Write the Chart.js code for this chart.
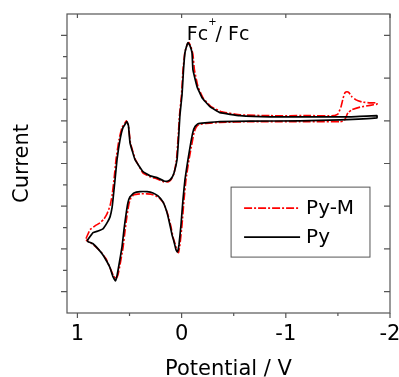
<!DOCTYPE html>
<html>
<head>
<meta charset="utf-8">
<script src="https://cdn.jsdelivr.net/npm/chart.js@4.4.1/dist/chart.umd.min.js"></script>
<style>
  html, body { margin: 0; padding: 0; background: #fff; }
</style>
</head>
<body>
<canvas id="cv" width="399" height="377"></canvas>
<script>
// Cyclic voltammograms (potential in V, current in arbitrary units).
// Each loop starts at the left vertex, goes out to -1.9 V and comes back.
const pyPotential = [
  0.908, 0.850, 0.802, 0.755, 0.716, 0.687, 0.668, 0.659, 0.639, 0.620,
  0.591, 0.563, 0.524, 0.510, 0.495, 0.447, 0.371, 0.303, 0.236, 0.169,
  0.131, 0.102, 0.073, 0.044, 0.030, 0.016, -0.004, -0.018, -0.032, -0.052,
  -0.061, -0.080, -0.100, -0.109, -0.148, -0.196, -0.272, -0.368, -0.560, -0.848,
  -1.232, -1.616, -1.875,
  -1.875, -1.520, -1.136, -0.656, -0.368, -0.224, -0.157, -0.128, -0.109, -0.090,
  -0.061, -0.032, -0.013, 0.006, 0.025, 0.040, 0.054, 0.073, 0.092, 0.112,
  0.140, 0.179, 0.227, 0.275, 0.332, 0.399, 0.457, 0.495, 0.515, 0.534,
  0.553, 0.572, 0.601, 0.620, 0.635, 0.659, 0.687, 0.716, 0.755, 0.802,
  0.850, 0.898, 0.908
];
const pyCurrent = [
  -2.81, -2.62, -2.58, -2.53, -2.39, -2.25, -2.04, -1.85, -1.38, -0.91,
  -0.44, -0.16, -0.02, -0.12, -0.52, -0.91, -1.19, -1.29, -1.33, -1.41,
  -1.41, -1.36, -1.22, -0.91, -0.44, 0.14, 0.61, 1.19, 1.59, 1.78,
  1.83, 1.76, 1.59, 1.19, 0.80, 0.54, 0.33, 0.19, 0.12, 0.09,
  0.09, 0.09, 0.12,
  0.07, 0.02, 0.00, -0.01, -0.02, -0.05, -0.07, -0.14, -0.26, -0.49,
  -0.91, -1.38, -1.85, -2.44, -2.90, -3.07, -3.02, -2.83, -2.67, -2.44,
  -2.15, -1.90, -1.76, -1.69, -1.66, -1.66, -1.69, -1.78, -1.92, -2.20,
  -2.55, -2.95, -3.37, -3.63, -3.75, -3.65, -3.44, -3.30, -3.14, -3.00,
  -2.88, -2.83, -2.81
];

const pymPotential = [
  0.918, 0.879, 0.831, 0.783, 0.745, 0.716, 0.687, 0.668, 0.649, 0.630,
  0.601, 0.572, 0.529, 0.510, 0.491, 0.443, 0.371, 0.303, 0.236, 0.169,
  0.131, 0.102, 0.073, 0.049, 0.035, 0.020, 0.001, -0.013, -0.032, -0.056,
  -0.071, -0.090, -0.109, -0.123, -0.157, -0.205, -0.282, -0.388, -0.560, -0.848,
  -1.232, -1.462, -1.501, -1.530, -1.549, -1.568, -1.587, -1.606, -1.635, -1.674,
  -1.731, -1.808, -1.875,
  -1.875, -1.808, -1.712, -1.635, -1.597, -1.578, -1.559, -1.520, -1.136, -0.656,
  -0.368, -0.224, -0.166, -0.138, -0.119, -0.100, -0.071, -0.042, -0.023, -0.004,
  0.016, 0.030, 0.044, 0.063, 0.083, 0.102, 0.131, 0.169, 0.217, 0.275,
  0.332, 0.399, 0.457, 0.486, 0.505, 0.524, 0.543, 0.562, 0.591, 0.611,
  0.630, 0.654, 0.687, 0.726, 0.774, 0.822, 0.870, 0.918
];
const pymCurrent = [
  -2.76, -2.55, -2.46, -2.39, -2.30, -2.18, -1.99, -1.76, -1.38, -0.91,
  -0.44, -0.16, 0.00, -0.12, -0.52, -0.91, -1.22, -1.31, -1.36, -1.43,
  -1.43, -1.38, -1.24, -0.91, -0.44, 0.14, 0.61, 1.19, 1.62, 1.80,
  1.83, 1.73, 1.55, 1.19, 0.80, 0.54, 0.33, 0.21, 0.14, 0.12,
  0.12, 0.12, 0.16, 0.33, 0.52, 0.66, 0.68, 0.66, 0.56, 0.49,
  0.44, 0.42, 0.42,
  0.39, 0.36, 0.32, 0.26, 0.19, 0.09, 0.00, -0.02, -0.02, -0.02,
  -0.04, -0.06, -0.09, -0.16, -0.28, -0.52, -0.91, -1.38, -1.85, -2.44,
  -2.90, -3.09, -3.04, -2.88, -2.72, -2.48, -2.20, -1.94, -1.80, -1.73,
  -1.71, -1.71, -1.73, -1.80, -1.94, -2.22, -2.58, -2.97, -3.37, -3.61,
  -3.70, -3.63, -3.44, -3.23, -3.07, -2.95, -2.86, -2.79
];

const xTicks      = [1, 0, -1, -2];
const xMinorTicks = [0.5, -0.5, -1.5];
const yTicks      = [-4, -3, -2, -1, 0, 1, 2];
const yMinorTicks = [-3.5, -2.5, -1.5, -0.5, 0.5, 1.5];

const FONT = "'DejaVu Sans', sans-serif";
const AXIS_COLOR = '#555';

function toPoints(xs, ys) {
  return xs.map((v, i) => ({ x: v, y: ys[i] }));
}

// Box, ticks on the four sides (short minor ones on the left/bottom)
const frameTicks = {
  id: 'frameTicks',
  afterDraw(chart) {
    const { ctx, chartArea: a, scales: { x, y } } = chart;
    ctx.save();
    ctx.strokeStyle = AXIS_COLOR;
    ctx.lineWidth = 1.2;
    ctx.strokeRect(a.left, a.top, a.right - a.left, a.bottom - a.top);
    ctx.beginPath();
    yTicks.forEach(v => {
      const p = y.getPixelForValue(v);
      ctx.moveTo(a.left - 6, p); ctx.lineTo(a.left, p);
      ctx.moveTo(a.right - 6, p); ctx.lineTo(a.right, p);
    });
    yMinorTicks.forEach(v => {
      const p = y.getPixelForValue(v);
      ctx.moveTo(a.left - 4, p); ctx.lineTo(a.left, p);
    });
    xTicks.forEach(v => {
      const p = x.getPixelForValue(v);
      ctx.moveTo(p, a.bottom); ctx.lineTo(p, a.bottom + 5);
      ctx.moveTo(p, a.top); ctx.lineTo(p, a.top + 4);
    });
    xMinorTicks.forEach(v => {
      const p = x.getPixelForValue(v);
      ctx.moveTo(p, a.bottom); ctx.lineTo(p, a.bottom + 3);
    });
    ctx.stroke();
    ctx.restore();
  }
};

// Framed legend inside the plot, lower right
const boxLegend = {
  id: 'boxLegend',
  afterDraw(chart) {
    const { ctx, chartArea: a } = chart;
    const w = a.right - a.left, h = a.bottom - a.top;
    const bx = a.left + 0.508 * w, by = a.top + 0.579 * h;
    const bw = 0.430 * w, bh = 0.234 * h;
    ctx.save();
    ctx.fillStyle = '#fff';
    ctx.fillRect(bx, by, bw, bh);
    ctx.strokeStyle = AXIS_COLOR;
    ctx.lineWidth = 1;
    ctx.strokeRect(bx, by, bw, bh);
    const sets = chart.data.datasets.slice().reverse();
    sets.forEach((ds, i) => {
      const ly = by + 21 + i * 29;
      ctx.beginPath();
      ctx.strokeStyle = ds.borderColor;
      ctx.lineWidth = ds.borderWidth;
      ctx.setLineDash(ds.borderDash || []);
      ctx.moveTo(bx + 13, ly); ctx.lineTo(bx + 69, ly);
      ctx.stroke();
      ctx.setLineDash([]);
      ctx.fillStyle = '#000';
      ctx.font = '20px ' + FONT;
      ctx.textBaseline = 'middle';
      ctx.fillText(ds.label, bx + 75, ly + 1);
    });
    ctx.restore();
  }
};

// "Fc+/ Fc" note above the ferrocene wave
const fcNote = {
  id: 'fcNote',
  afterDraw(chart) {
    const { ctx, scales: { x, y } } = chart;
    let px = x.getPixelForValue(-0.05);
    const py = y.getPixelForValue(1.9);
    ctx.save();
    ctx.fillStyle = '#000';
    ctx.textBaseline = 'alphabetic';
    ctx.font = '19px ' + FONT;
    ctx.fillText('Fc', px, py);
    px += ctx.measureText('Fc').width;
    ctx.font = '10px ' + FONT;
    ctx.fillText('+', px, py - 15);
    px += ctx.measureText('+').width - 1;
    ctx.font = '19px ' + FONT;
    ctx.fillText('/ Fc', px, py);
    ctx.restore();
  }
};

new Chart(document.getElementById('cv'), {
  type: 'scatter',
  data: {
    datasets: [
      {
        label: 'Py',
        data: toPoints(pyPotential, pyCurrent),
        showLine: true,
        borderColor: '#000',
        borderWidth: 1.7,
        pointRadius: 0,
        tension: 0.1
      },
      {
        label: 'Py-M',
        data: toPoints(pymPotential, pymCurrent),
        showLine: true,
        borderColor: '#f00',
        borderWidth: 1.6,
        borderDash: [8, 2, 2, 2],
        pointRadius: 0,
        tension: 0.1
      }
    ]
  },
  options: {
    responsive: false,
    animation: false,
    layout: { padding: { top: 14, right: 9, left: 0, bottom: 0 } },
    plugins: { legend: { display: false }, tooltip: { enabled: false } },
    scales: {
      x: {
        type: 'linear',
        reverse: true,
        min: -2,
        max: 1.1,
        grid: { display: false, drawTicks: false },
        border: { display: false },
        afterBuildTicks: s => { s.ticks = xTicks.map(v => ({ value: v })); },
        afterFit: s => { s.height = 64; s.paddingLeft = 0; s.paddingRight = 0; },
        ticks: {
          padding: 9,
          color: '#000',
          font: { family: FONT, size: 21 },
          callback: v => String(v)
        },
        title: {
          display: true,
          text: 'Potential / V',
          color: '#000',
          font: { family: FONT, size: 21, lineHeight: 0.7 },
          padding: 0
        }
      },
      y: {
        type: 'linear',
        min: -4.5,
        max: 2.5,
        grid: { display: false, drawTicks: false },
        border: { display: false },
        ticks: { display: false },
        afterFit: s => { s.width = 67; s.paddingTop = 0; s.paddingBottom = 0; },
        title: {
          display: true,
          text: 'Current',
          color: '#000',
          font: { family: FONT, size: 21, lineHeight: 1 },
          padding: { top: 12, bottom: 0 }
        }
      }
    }
  },
  plugins: [frameTicks, boxLegend, fcNote]
});
</script>
</body>
</html>
